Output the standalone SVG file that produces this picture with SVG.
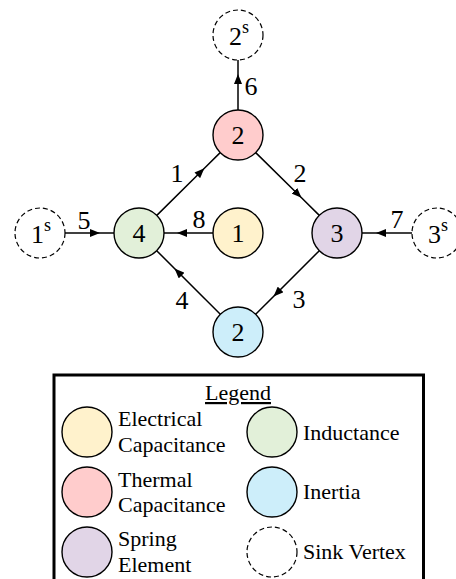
<svg xmlns="http://www.w3.org/2000/svg" width="456" height="579" viewBox="0 0 456 579" font-family="'Liberation Serif', 'Times New Roman', serif">
<defs>
<style>
.n{stroke:#000;stroke-width:1.4}
.sink{fill:#fff;stroke:#000;stroke-width:1.2;stroke-dasharray:5 3}
.lbl{font-size:26px;text-anchor:middle}
.sup{font-size:18px}
.e{fill:none;stroke:#000;stroke-width:1.5;marker-mid:url(#arr)}
.lg{font-size:22px}
.ec{fill:#fff2cc}.tc{fill:#ffcccc}.ind{fill:#e2f0d9}.in{fill:#cdeefa}.sp{fill:#e1d5e7}
</style>
<marker id="arr" viewBox="0 0 10 8" refX="10" refY="4" markerWidth="10" markerHeight="8" markerUnits="userSpaceOnUse" orient="auto">
<path d="M0,0 L10,4 L0,8 Z" fill="#000"/>
</marker>
</defs>
<rect width="456" height="579" fill="#fff"/>
<g id="connectors">
<polyline class="e" points="238,110 238,74 238,60"/>
<polyline class="e" points="156.8,215.4 204.4,168.3 220.2,152.6"/>
<polyline class="e" points="255.7,152.6 301.5,197.8 319.3,215.4"/>
<polyline class="e" points="319.3,250.7 273.5,296.5 255.7,314.3"/>
<polyline class="e" points="220.3,314.3 174.5,268.5 156.7,250.7"/>
<polyline class="e" points="65,233 100,233 114,233"/>
<polyline class="e" points="213,233 177,233 164,233"/>
<polyline class="e" points="412,233 376,233 362,233"/>
<text class="lbl" x="251" y="95">6</text>
<text class="lbl" x="177" y="182">1</text>
<text class="lbl" x="300" y="182">2</text>
<text class="lbl" x="84" y="229">5</text>
<text class="lbl" x="199" y="228">8</text>
<text class="lbl" x="397" y="228">7</text>
<text class="lbl" x="182" y="309">4</text>
<text class="lbl" x="299" y="308">3</text>
</g>
<g id="sink2"><circle class="sink" cx="238" cy="35" r="25"/><text class="lbl" x="239" y="45">2<tspan class="sup" dy="-12">s</tspan></text></g>
<g id="sink1"><circle class="sink" cx="40" cy="233" r="25"/><text class="lbl" x="41" y="243">1<tspan class="sup" dy="-12">s</tspan></text></g>
<g id="sink3"><circle class="sink" cx="437" cy="233" r="25"/><text class="lbl" x="438" y="243">3<tspan class="sup" dy="-12">s</tspan></text></g>
<g id="thermal2"><circle class="n tc" cx="238" cy="135" r="25"/><text class="lbl" x="238" y="144">2</text></g>
<g id="inductance4"><circle class="n ind" cx="139" cy="233" r="25"/><text class="lbl" x="139" y="242">4</text></g>
<g id="electrical1"><circle class="n ec" cx="238" cy="233" r="25"/><text class="lbl" x="238" y="242">1</text></g>
<g id="spring3"><circle class="n sp" cx="337" cy="233" r="25"/><text class="lbl" x="337" y="242">3</text></g>
<g id="inertia2"><circle class="n in" cx="238" cy="332" r="25"/><text class="lbl" x="238" y="341">2</text></g>
<g id="legend">
<rect x="54" y="375" width="369.5" height="220" fill="#fff" stroke="#000" stroke-width="3"/>
<text class="lg" x="238" y="400" text-anchor="middle" text-decoration="underline">Legend</text>
<circle class="n ec" cx="87" cy="432" r="25"/>
<text class="lg" x="118" y="426">Electrical</text><text class="lg" x="118" y="452">Capacitance</text>
<circle class="n ind" cx="272" cy="432" r="25"/>
<text class="lg" x="303" y="440">Inductance</text>
<circle class="n tc" cx="87" cy="492" r="25"/>
<text class="lg" x="118" y="487">Thermal</text><text class="lg" x="118" y="512">Capacitance</text>
<circle class="n in" cx="272" cy="492" r="25"/>
<text class="lg" x="303" y="499">Inertia</text>
<circle class="n sp" cx="87" cy="552" r="25"/>
<text class="lg" x="118" y="546">Spring</text><text class="lg" x="118" y="572">Element</text>
<circle class="sink" cx="272" cy="552" r="25"/>
<text class="lg" x="303" y="559">Sink Vertex</text>
</g>
</svg>
